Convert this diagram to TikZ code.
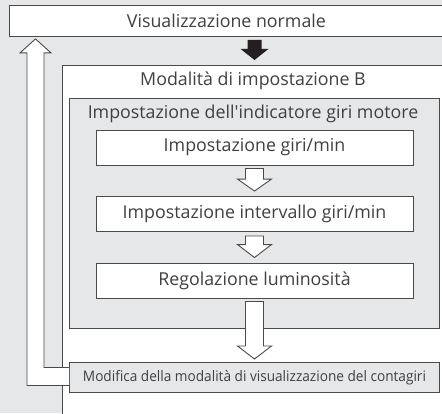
\documentclass[tikz,border=0pt]{standalone}
\usepackage{fontspec}
\setmainfont{Open Sans}
\usepackage{tikz}
\usetikzlibrary{calc}

\definecolor{bggray}{HTML}{E6E7E8}
\definecolor{edge}{HTML}{4A4A4A}
\definecolor{txt}{HTML}{404040}
\definecolor{blk}{HTML}{231F20}

\tikzset{
  box/.style={draw=edge, line width=0.9pt, fill=white, inner sep=0pt, minimum height=35pt, text=txt},
  graybox/.style={box, fill=bggray},
  title/.style={inner sep=0pt, text=txt},
  openarrow/.style={draw=edge, line width=0.9pt, fill=white, line join=miter},
  blackarrow/.style={fill=blk}
}

\begin{document}
\begin{tikzpicture}[x=1pt,y=-1pt, every node/.append style={font=\fontsize{17.8}{20}\selectfont}]
\clip (0,0) rectangle (442,413);
\fill[bggray] (0,0) rectangle (442,413);

\node[box, anchor=north west, minimum width=434pt, minimum height=31pt] (normal) at (9,5) {Visualizzazione normale};

\node[box, anchor=north west, minimum width=400pt, minimum height=360pt] (modeB) at (62,65) {};
\node[title] (modeBtitle) at (253,81) {Modalità di impostazione B};

\node[graybox, anchor=north west, minimum width=370pt, minimum height=230pt] (indic) at (69,98) {};
\node[title] (indictitle) at (253,114) {Impostazione dell\textquotesingle indicatore giri motore};

\node[box, minimum width=317pt] (giri) at (254.5,147.5) {Impostazione giri/min};
\node[box, minimum width=317pt] (inter) at (254.5,214) {Impostazione intervallo giri/min};
\node[box, minimum width=317pt] (lumi) at (254.5,280.5) {Regolazione luminosità};

\node[graybox, anchor=north west, minimum width=370pt, minimum height=30pt, font=\fontsize{14.5}{17}\selectfont] (modif) at (69,362) {\scalebox{0.94}[1]{Modifica della modalità di visualizzazione del contagiri}};

% freccia nera
\coordinate (blk) at (normal.south -| giri.north);
\fill[blackarrow] ($(blk)+(-7,3)$) -- ($(blk)+(7,3)$) -- ($(blk)+(7,12)$) -- ($(blk)+(14,12)$)
  -- ($(blk |- modeB.north)+(0,-5)$) -- ($(blk)+(-14,12)$) -- ($(blk)+(-7,12)$) -- cycle;

% frecce vuote
\draw[openarrow] ($(giri.south)+(-9,3)$) -- ($(giri.south)+(9,3)$) -- ($(inter.north)+(9,-17)$) -- ($(inter.north)+(17,-17)$)
  -- ($(inter.north)+(0,-5)$) -- ($(inter.north)+(-17,-17)$) -- ($(inter.north)+(-9,-17)$) -- cycle;
\draw[openarrow] ($(inter.south)+(-9,4)$) -- ($(inter.south)+(9,4)$) -- ($(lumi.north)+(9,-18)$) -- ($(lumi.north)+(17,-18)$)
  -- ($(lumi.north)+(0,-5)$) -- ($(lumi.north)+(-17,-18)$) -- ($(lumi.north)+(-9,-18)$) -- cycle;
\draw[openarrow] ($(lumi.south)+(-9,3)$) -- ($(lumi.south)+(9,3)$) -- ($(modif.north -| lumi.south)+(9,-16)$) -- ($(modif.north -| lumi.south)+(17,-16)$)
  -- ($(modif.north -| lumi.south)+(0,-3)$) -- ($(modif.north -| lumi.south)+(-17,-16)$) -- ($(modif.north -| lumi.south)+(-9,-16)$) -- cycle;

% ritorno
\coordinate (rettip) at ($(normal.south west)+(26.5,2)$);
\draw[openarrow] ($(modif.west)+(0,8)$) -- ($(modif.west -| rettip)+(-8.5,8)$) -- ($(rettip)+(-8.5,14)$) -- ($(rettip)+(-15.5,14)$)
  -- (rettip) -- ($(rettip)+(15.5,14)$) -- ($(rettip)+(8.5,14)$) -- ($(modif.west -| rettip)+(8.5,-10)$) -- ($(modif.west)+(0,-10)$);
\end{tikzpicture}
\end{document}
